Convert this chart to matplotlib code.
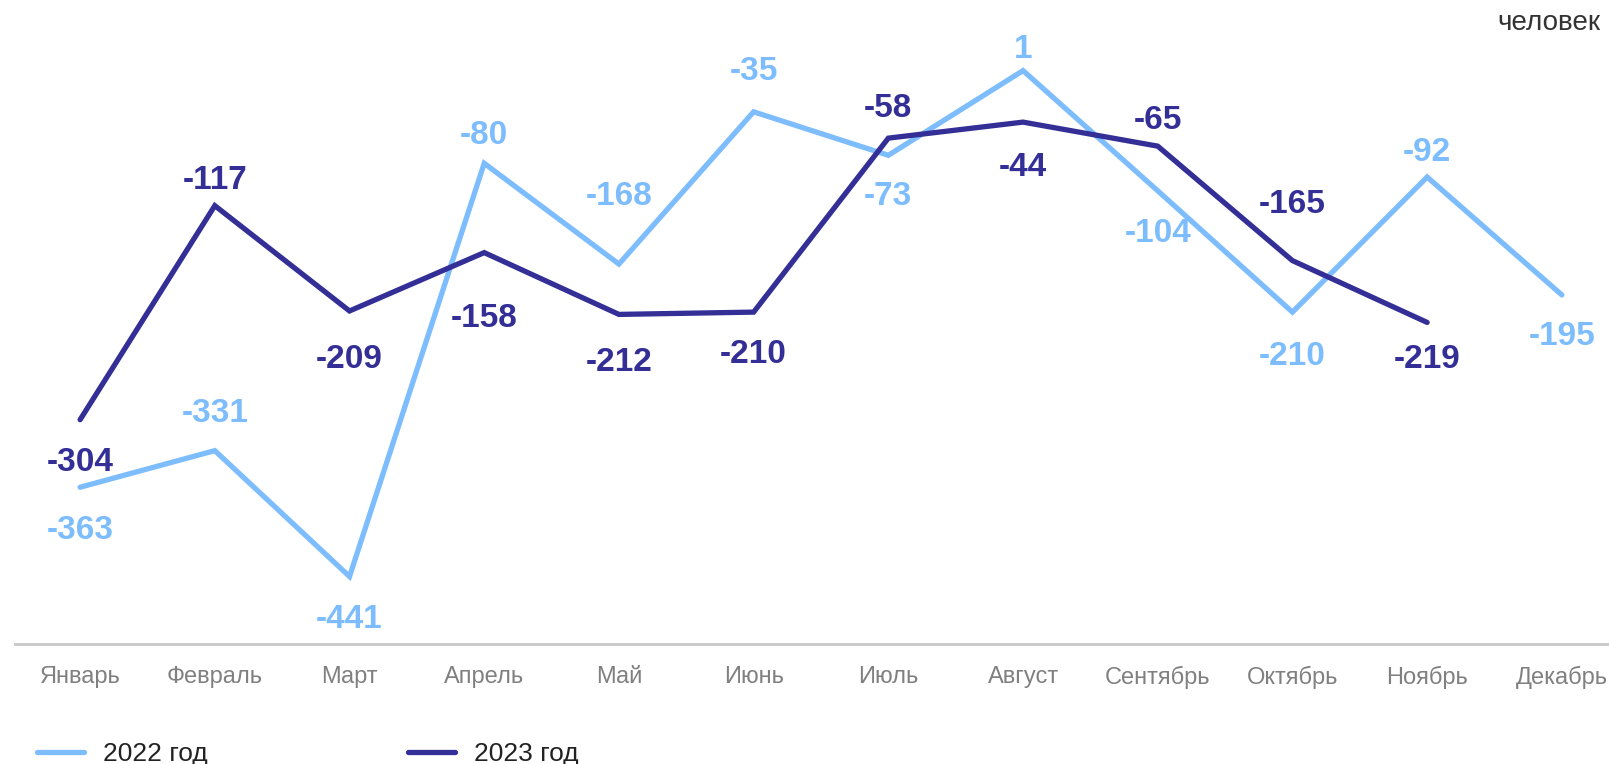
import matplotlib.pyplot as plt
import matplotlib.font_manager as fm

months = ["Январь", "Февраль", "Март", "Апрель", "Май", "Июнь", "Июль",
          "Август", "Сентябрь", "Октябрь", "Ноябрь", "Декабрь"]
vals_2022 = [-363, -331, -441, -80, -168, -35, -73, 1, -104, -210, -92, -195]
vals_2023 = [-304, -117, -209, -158, -212, -210, -58, -44, -65, -165, -219]
# vertical label offset in pixels (positive = above the point)
off_2022 = [-43, 37, -43, 28, 68, 40, -41, 21, -43, -44, 25, -42]
off_2023 = [-43, 25, -49, -66, -48, -42, 30, -45, 26, 56, -37]

c22 = "#7dbdfd"
c23 = "#332f96"

names = {f.name for f in fm.fontManager.ttflist}
narrow = "Liberation Sans Narrow" if "Liberation Sans Narrow" in names else "Liberation Sans"
plt.rcParams['font.family'] = ['Liberation Sans', 'DejaVu Sans']

fig = plt.figure(figsize=(16.09, 7.64), dpi=100)
ax = fig.add_axes([0.0096, 0.157, 0.9904, 0.824])

x22 = list(range(len(vals_2022)))
x23 = list(range(len(vals_2023)))
ax.plot(x22, vals_2022, color=c22, lw=3.8, solid_capstyle='round', solid_joinstyle='miter', label="2022 год")
ax.plot(x23, vals_2023, color=c23, lw=3.8, solid_capstyle='round', solid_joinstyle='miter', label="2023 год")

for xs, vs, os_, c in [(x22, vals_2022, off_2022, c22), (x23, vals_2023, off_2023, c23)]:
    for x, v, o in zip(xs, vs, os_):
        ax.annotate(str(v), (x, v), xytext=(0, o), textcoords='offset pixels',
                    ha='center', va='center', fontsize=24, fontweight='bold', color=c)

ax.set_xlim(-0.48, 11.35)
ax.set_ylim(-500, 50)
ax.set_xticks(x22)
ax.set_xticklabels(months, fontsize=17, color="#808080", family=narrow)
ax.tick_params(axis='x', length=0, pad=16)
ax.set_yticks([])
for s in ['top', 'right', 'left']:
    ax.spines[s].set_visible(False)
ax.spines['bottom'].set_color("#c8c8c8")
ax.spines['bottom'].set_linewidth(2)

fig.text(0.995, 0.97, "человек", ha='right', va='center', fontsize=20, color="#333333")

leg = fig.legend(loc='lower left', bbox_to_anchor=(0.008, -0.034), ncol=2, frameon=False,
                 prop={'family': narrow, 'size': 19}, handlelength=1.8, handletextpad=0.7,
                 columnspacing=7.6)
for t in leg.get_texts():
    t.set_color("#222222")

fig.savefig("out.png", dpi=100)
